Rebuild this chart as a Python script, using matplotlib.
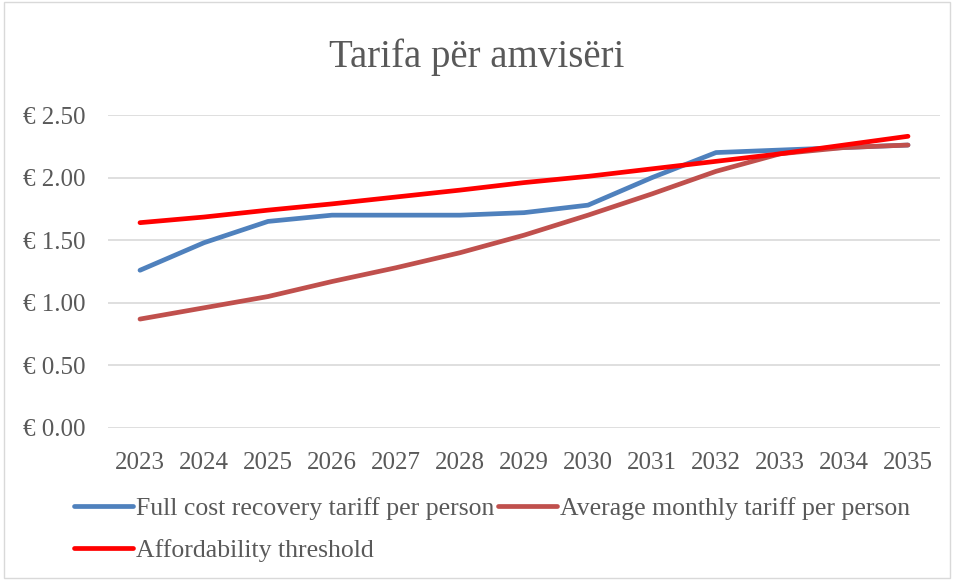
import matplotlib
matplotlib.use("Agg")
import matplotlib.pyplot as plt
from matplotlib.ticker import FuncFormatter

# te dhenat
vitet = ["2023", "2024", "2025", "2026", "2027", "2028", "2029",
         "2030", "2031", "2032", "2033", "2034", "2035"]
kosto_plote = [1.26, 1.48, 1.65, 1.70, 1.70, 1.70, 1.72,
               1.78, 2.00, 2.20, 2.22, 2.24, 2.26]
tarifa_mesatare = [0.87, 0.96, 1.05, 1.17, 1.28, 1.40, 1.54,
                   1.70, 1.87, 2.05, 2.19, 2.24, 2.26]
perballueshmeria = [1.64, 1.685, 1.74, 1.79, 1.845, 1.90, 1.96,
                    2.01, 2.07, 2.13, 2.19, 2.26, 2.33]

emrat = ["Full cost recovery tariff per person",
         "Average monthly tariff per person",
         "Affordability threshold"]
ngjyrat = ["#4F81BD", "#C0504D", "#FF0000"]

plt.rcParams['font.family'] = ['Liberation Serif', 'DejaVu Serif']
gri = '#595959'

fig = plt.figure(figsize=(9.54, 5.8), dpi=100)
ax = fig.add_axes([108 / 954, 1 - 428 / 580, 832 / 954, 313 / 580])

x = range(len(vitet))
vijat = []
for seria, emri, ngj in zip([kosto_plote, tarifa_mesatare, perballueshmeria], emrat, ngjyrat):
    v, = ax.plot(x, seria, color=ngj, linewidth=3.4, solid_capstyle='round', label=emri)
    vijat.append(v)

ax.set_xlim(-0.5, len(vitet) - 0.5)
ax.set_ylim(0, 2.5)
ax.set_yticks([0, 0.5, 1.0, 1.5, 2.0, 2.5])
ax.yaxis.set_major_formatter(FuncFormatter(lambda v, p: f"€ {v:.2f}"))
ax.set_xticks(list(x))
ax.set_xticklabels(vitet)
ax.tick_params(length=0, labelsize=18, colors=gri)
ax.tick_params(axis='x', pad=17)
ax.tick_params(axis='y', pad=16)
ax.grid(axis='y', color='#D9D9D9', linewidth=1.2)
ax.set_axisbelow(True)
for s in ax.spines.values():
    s.set_visible(False)

fig.suptitle("Tarifa për amvisëri", fontsize=28, color=gri, y=0.933)

# rradha: rreshti 1 blu + kafe, rreshti 2 e kuqe
rendi = [0, 2, 1]
leg = fig.legend([vijat[i] for i in rendi], [emrat[i] for i in rendi],
                 loc='upper left', bbox_to_anchor=(74 / 954, 1 - 497 / 580), ncol=2,
                 frameon=False, fontsize=18.5, handlelength=2.3, handletextpad=0.1,
                 columnspacing=0.15, labelspacing=0.75, borderpad=0, borderaxespad=0)
for t in leg.get_texts():
    t.set_color(gri)

fig.patches.append(plt.Rectangle((0.004, 0.004), 0.992, 0.992, transform=fig.transFigure,
                                 fill=False, edgecolor='#D9D9D9', linewidth=1))

fig.savefig("out.png", dpi=100, facecolor='white')
